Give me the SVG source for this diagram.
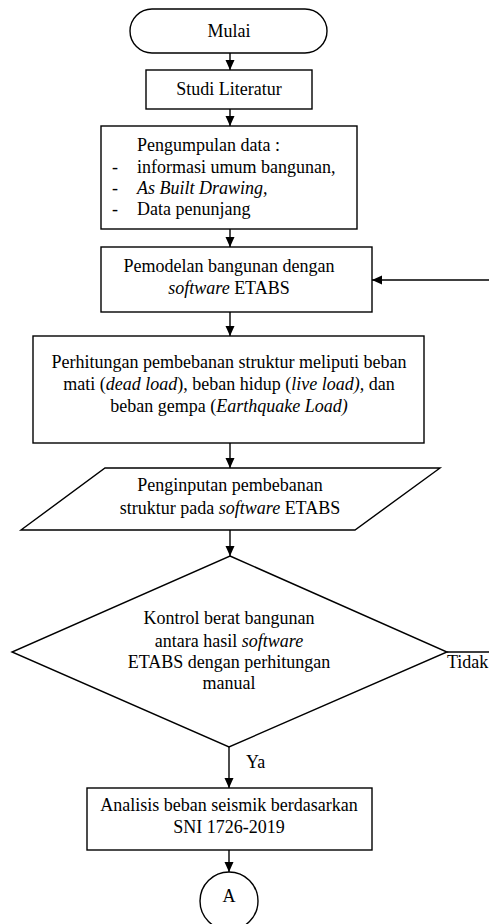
<svg xmlns="http://www.w3.org/2000/svg" width="489" height="924" viewBox="0 0 489 924">
<defs>
<marker id="ah" markerUnits="userSpaceOnUse" markerWidth="10" markerHeight="10" viewBox="0 0 10 10" refX="10" refY="5" orient="auto">
<path d="M0,0.5 L10,5 L0,9.5 Z" fill="#000"/>
</marker>
<style>
.s{fill:#fff;stroke:#000;stroke-width:1.4}
.c{fill:none;stroke:#000;stroke-width:1.4;marker-end:url(#ah)}
.l{fill:none;stroke:#000;stroke-width:1.4}
text{font-family:"Liberation Serif","Times New Roman",serif;font-size:18px;fill:#000}
.m{text-anchor:middle}
.i{font-style:italic}
</style>
</defs>
<rect width="489" height="924" fill="#fff"/>
<g id="connectors">
<line class="c" x1="230" y1="53" x2="230" y2="70"/>
<line class="c" x1="230" y1="109" x2="230" y2="126"/>
<line class="c" x1="230" y1="229" x2="230" y2="247"/>
<line class="c" x1="489" y1="280" x2="372" y2="280"/>
<line class="c" x1="230" y1="312" x2="230" y2="336"/>
<line class="c" x1="230" y1="443" x2="230" y2="468"/>
<line class="c" x1="230" y1="530" x2="230" y2="556"/>
<line class="l" x1="447" y1="652" x2="489" y2="652"/>
<line class="c" x1="229" y1="747" x2="229" y2="788"/>
<line class="c" x1="229" y1="850" x2="229" y2="872"/>
<text x="447" y="668">Tidak</text>
<text x="246" y="768">Ya</text>
</g>
<g id="mulai">
<rect class="s" x="130" y="9" width="197" height="44" rx="22" ry="22"/>
<text class="m" x="229" y="37">Mulai</text>
</g>
<g id="studi">
<rect class="s" x="146" y="70" width="166" height="39"/>
<text class="m" x="229" y="95">Studi Literatur</text>
</g>
<g id="pengumpulan">
<rect class="s" x="101" y="126" width="256" height="103"/>
<text x="137" y="151">Pengumpulan data :</text>
<text x="112" y="173">-</text>
<text x="137" y="173">informasi umum bangunan,</text>
<text x="112" y="194">-</text>
<text x="137" y="194" class="i">As Built Drawing,</text>
<text x="112" y="215">-</text>
<text x="137" y="215">Data penunjang</text>
</g>
<g id="pemodelan">
<rect class="s" x="101" y="247" width="271" height="65"/>
<text class="m" x="229" y="272">Pemodelan bangunan dengan</text>
<text class="m" x="229" y="294"><tspan class="i">software</tspan> ETABS</text>
</g>
<g id="perhitungan">
<rect class="s" x="33" y="336" width="391" height="107"/>
<text class="m" x="229" y="368">Perhitungan pembebanan struktur meliputi beban</text>
<text class="m" x="229" y="390">mati (<tspan class="i">dead load</tspan>), beban hidup (<tspan class="i">live load),</tspan> dan</text>
<text class="m" x="229" y="412">beban gempa (<tspan class="i">Earthquake Load)</tspan></text>
</g>
<g id="penginputan">
<polygon class="s" points="105,468 440,468 355,530 21,530"/>
<text class="m" x="230" y="491">Penginputan pembebanan</text>
<text class="m" x="230" y="514">struktur pada <tspan class="i">software</tspan> ETABS</text>
</g>
<g id="kontrol">
<polygon class="s" points="230,556 447,652 229,747 12,652"/>
<text class="m" x="229" y="624">Kontrol berat bangunan</text>
<text class="m" x="229" y="647">antara hasil <tspan class="i">software</tspan></text>
<text class="m" x="229" y="668">ETABS dengan perhitungan</text>
<text class="m" x="229" y="689">manual</text>
</g>
<g id="analisis">
<rect class="s" x="87" y="788" width="285" height="62"/>
<text class="m" x="229" y="811">Analisis beban seismik berdasarkan</text>
<text class="m" x="229" y="833">SNI 1726-2019</text>
</g>
<g id="konektorA">
<circle class="s" cx="229" cy="901" r="29"/>
<text class="m" x="229" y="902">A</text>
</g>
</svg>
